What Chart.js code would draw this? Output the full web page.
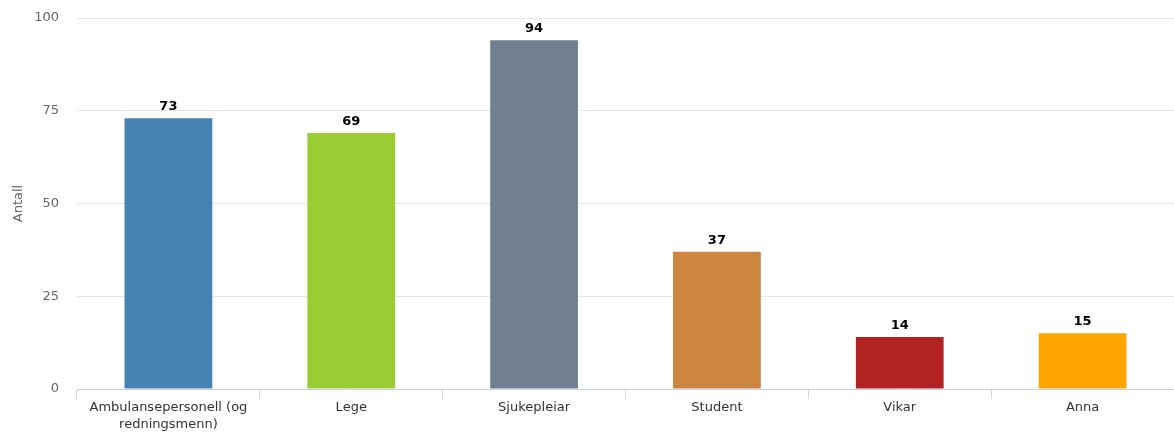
<!DOCTYPE html>
<html>
<head>
<meta charset="utf-8">
<script src="https://cdn.jsdelivr.net/npm/chart.js@4"></script>
<style>
  html, body { margin: 0; padding: 0; background: #fff; }
  #wrap { width: 1174px; height: 432px; position: relative; }
</style>
</head>
<body>
<div id="wrap"><canvas id="chart"></canvas></div>
<script>
const categories = [
    ['Ambulansepersonell (og', 'redningsmenn)'],
    'Lege',
    'Sjukepleiar',
    'Student',
    'Vikar',
    'Anna'
];
const values = [73, 69, 94, 37, 14, 15];
const barColors = ['#4682B4', '#9ACD32', '#708090', '#CD853F', '#B22222', '#FFA500'];
const yTicks = [0, 25, 50, 75, 100];

const fontFamily = "'Lucida Grande', 'DejaVu Sans', sans-serif";

// draw the value above each bar
const valueLabels = {
    id: 'valueLabels',
    afterDatasetsDraw(chart) {
        const ctx = chart.ctx;
        const meta = chart.getDatasetMeta(0);
        ctx.save();
        ctx.font = 'bold 13px ' + fontFamily;
        ctx.fillStyle = '#000';
        ctx.textAlign = 'center';
        ctx.textBaseline = 'bottom';
        meta.data.forEach((bar, i) => {
            ctx.fillText(values[i], bar.x, bar.y - 5);
        });
        ctx.restore();
    }
};

new Chart(document.getElementById('chart'), {
    type: 'bar',
    data: {
        labels: categories,
        datasets: [{
            data: values,
            backgroundColor: barColors,
            borderWidth: 0,
            categoryPercentage: 1,
            barPercentage: 0.48
        }]
    },
    options: {
        responsive: true,
        maintainAspectRatio: false,
        animation: false,
        layout: { padding: { top: 0, right: 0, bottom: 0, left: 0 } },
        plugins: {
            legend: { display: false },
            tooltip: { enabled: false }
        },
        scales: {
            x: {
                afterFit(scale) { scale.height = 43; },
                grid: {
                    offset: true,
                    drawOnChartArea: false,
                    color: '#ccd6eb',
                    tickLength: 10
                },
                border: { color: '#ccd6eb', width: 1 },
                ticks: {
                    color: '#333',
                    font: { family: fontFamily, size: 13, lineHeight: 1.3 },
                    padding: 0,
                    maxRotation: 0,
                    autoSkip: false
                }
            },
            y: {
                min: 0,
                max: 100,
                afterFit(scale) {
                    scale.width = 77;
                    scale.paddingTop = 18;
                },
                afterBuildTicks(scale) { scale.ticks = yTicks.map(v => ({ value: v })); },
                grid: { color: '#e6e6e6', drawTicks: false },
                border: { display: false },
                ticks: {
                    color: '#666',
                    font: { family: fontFamily, size: 13 },
                    padding: 18
                },
                title: {
                    display: true,
                    text: 'Antall',
                    color: '#666',
                    font: { family: fontFamily, size: 13 },
                    padding: { top: 11, bottom: 0 }
                }
            }
        }
    },
    plugins: [valueLabels]
});
</script>
</body>
</html>
